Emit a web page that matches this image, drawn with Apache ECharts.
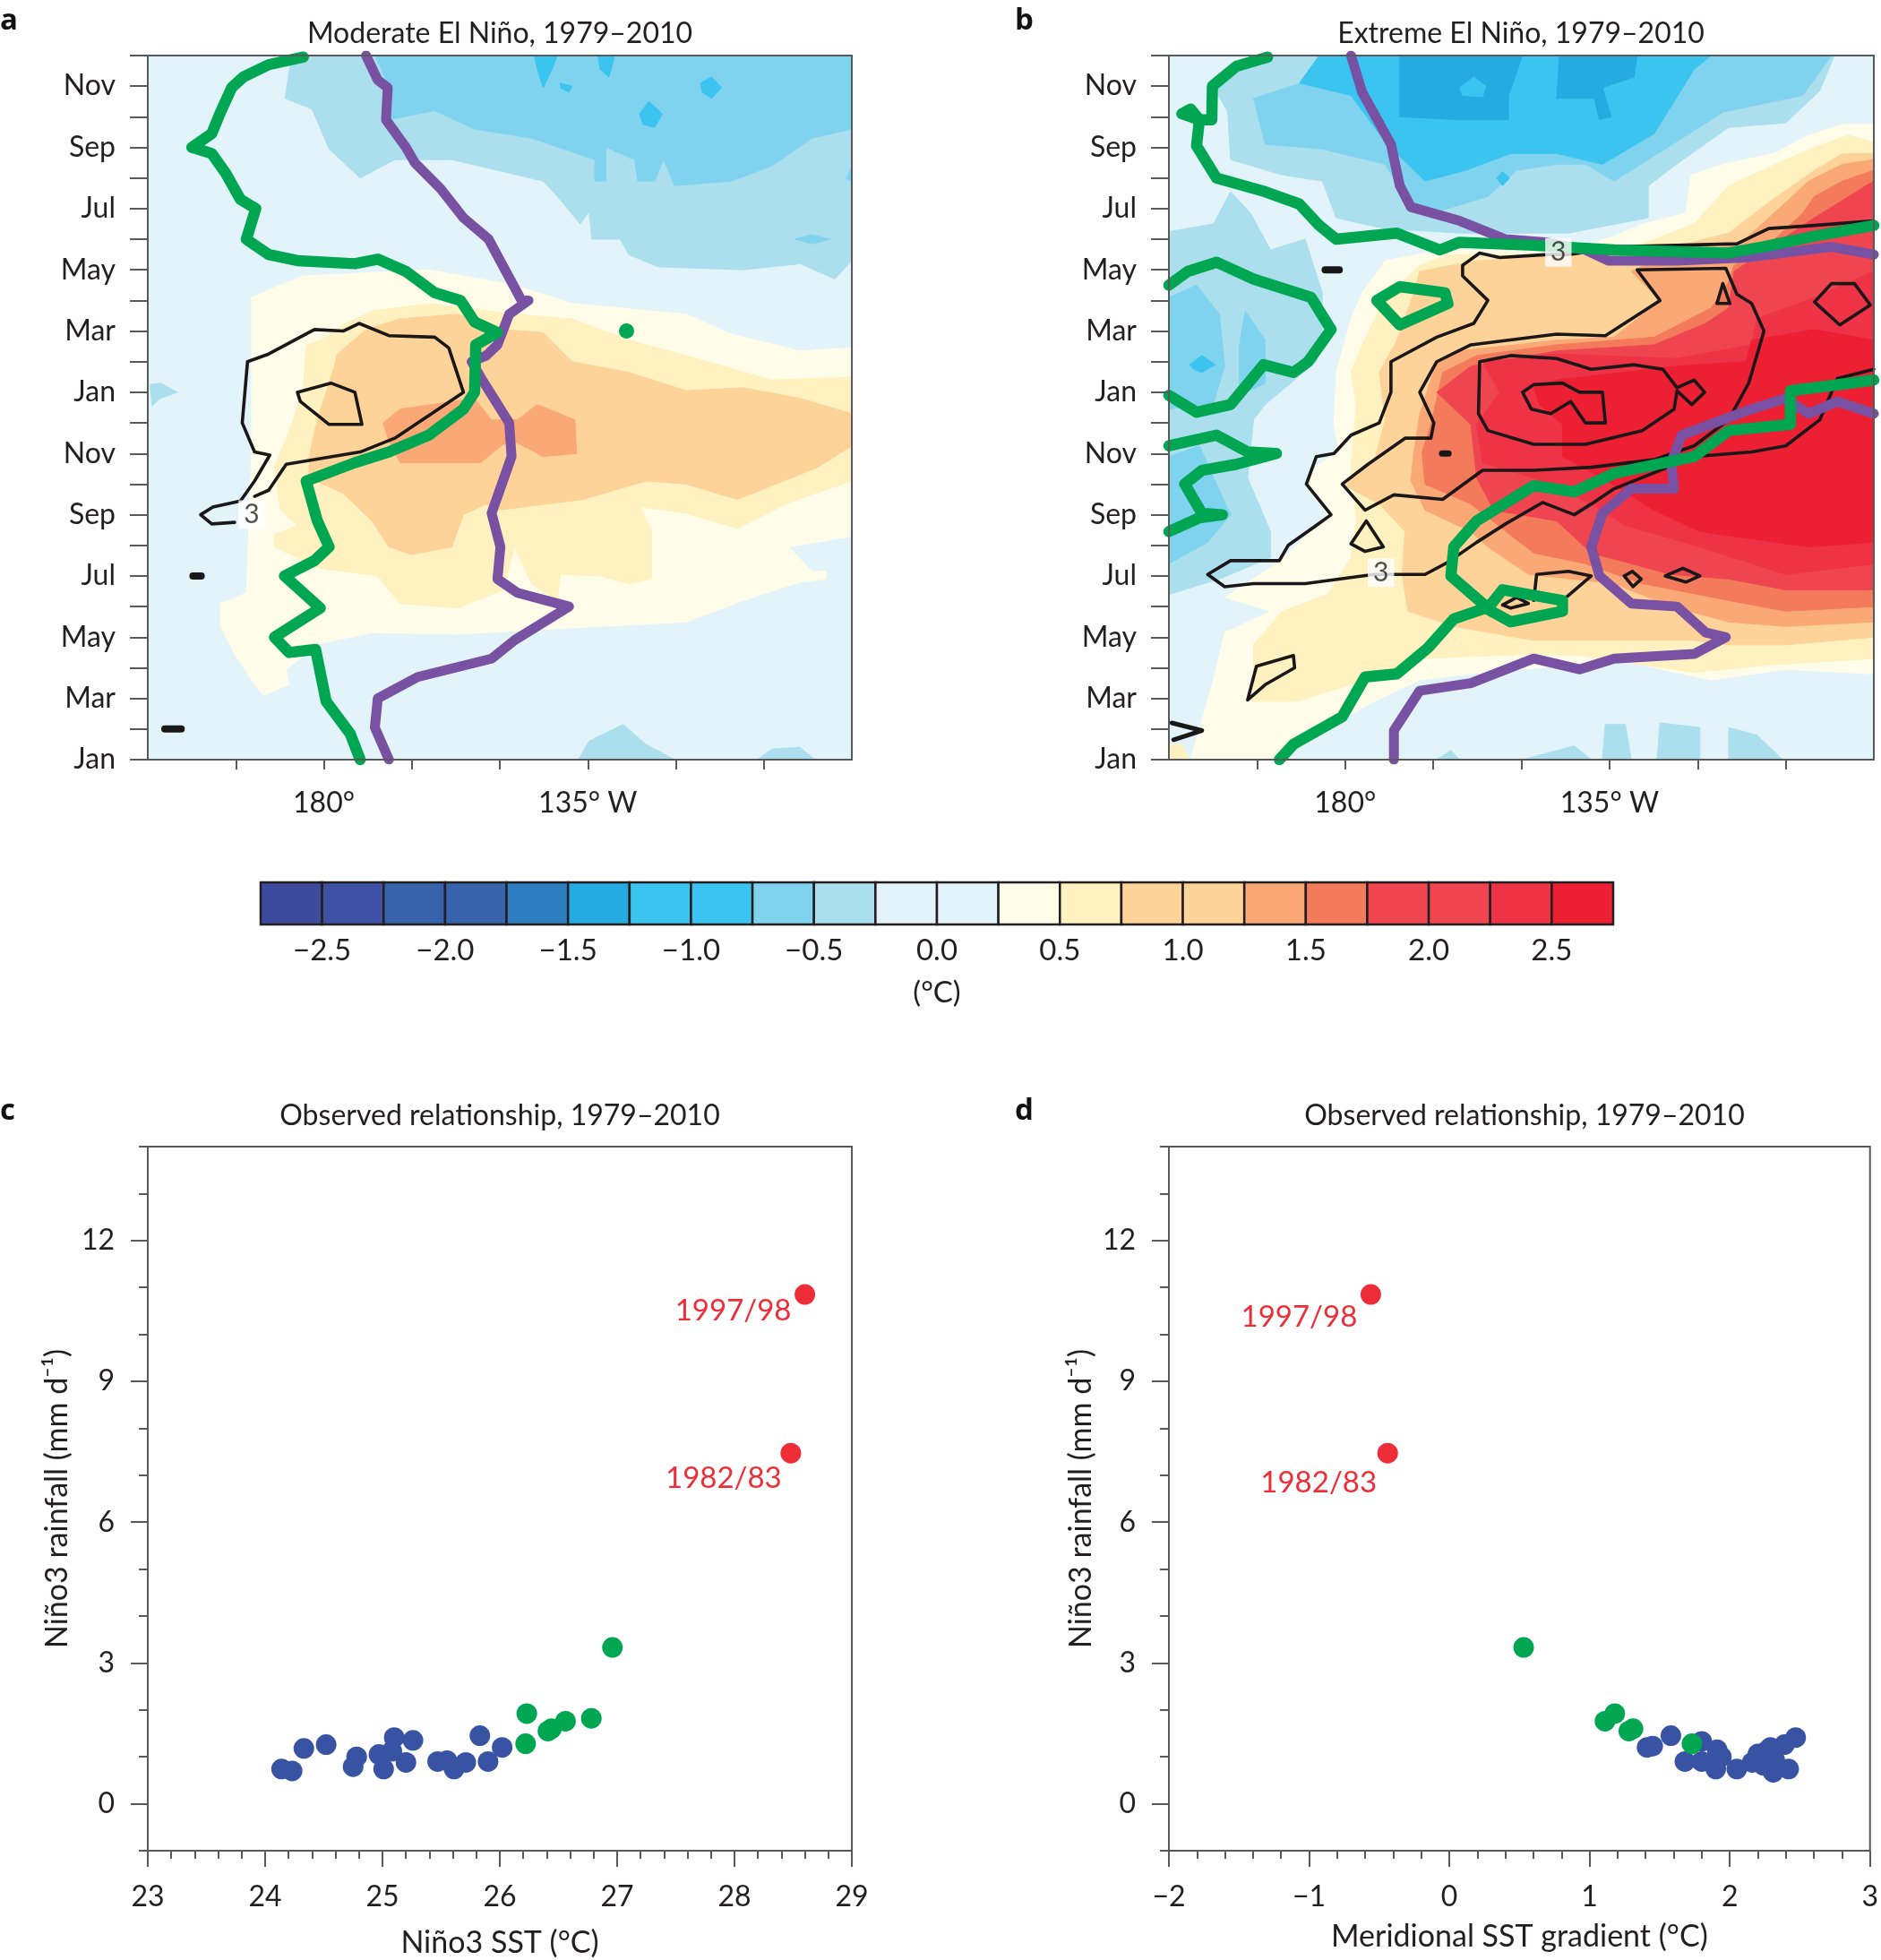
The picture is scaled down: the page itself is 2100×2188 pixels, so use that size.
<!DOCTYPE html>
<html><head><meta charset="utf-8">
<style>html,body{margin:0;padding:0;background:#fff}#c{width:2100px;height:2188px}</style>
<script src="https://cdn.jsdelivr.net/npm/echarts@6/dist/echarts.min.js"></script>
</head><body><div id="c"></div>
<script>
const monthNames=['Jan','','Mar','','May','','Jul','','Sep','','Nov','','Jan','','Mar','','May','','Jul','','Sep','','Nov',''];
const levelValues=[-2.5,-2,-1.5,-1,-0.5,0,0.5,1,1.5,2,2.5];
const levelColors=['#3e4a9e','#3f51a5','#3763ad','#3763ad','#2e7fc1','#25aae1','#3cc4f0','#3cc4f0','#80d3ee','#acdfee','#e3f3fa','#e3f3fa','#fffdea','#fff2c0','#fed39a','#fed39a','#fba877','#f47a5c','#ef4550','#ef4550','#ee3346','#ed1f33'];
const levelEdges=[-2.75,-2.5,-2.25,-2,-1.75,-1.5,-1.25,-1,-0.75,-0.5,-0.25,0,0.25,0.5,0.75,1,1.25,1.5,1.75,2,2.25,2.5,2.75];

const domain=[[150,0],[270,0],[270,23],[150,23]];

// Panel a: contour bands [lon, month]
const aCool25=[[174.5,23],[173.4,21.6],[178,21.25],[180.9,19.95],[186.2,19],[192.1,19.6],[201.8,19.6],[217.4,18.9],[219.8,18.4],[223.7,17.5],[225.2,17.9],[225.7,17],[230.5,17],[232,16.5],[236.9,16.1],[251.5,16],[261.2,16.2],[267.1,15.7],[270,16.3],[270,23]];
const aCool25Left=[[150.4,12.25],[152.1,12.3],[155.1,12],[152.1,11.8],[150.7,11.55]];
const aCool25BotA=[[223.4,0],[225.2,.6],[231,1.15],[234.9,.5],[239.8,0]];
const aCool25BotB=[[253.9,0],[256.4,.35],[261.2,.4],[263.7,0]];
const aCool50=[[188.7,23],[191.1,22],[191.1,20.9],[198.9,21.2],[205.7,20.6],[215.5,20.3],[226.2,19.6],[226.2,18.9],[228.1,18.9],[228.1,20],[233,19.6],[233.5,18.9],[236.4,18.9],[237.9,19.6],[239.8,18.75],[249.5,18.9],[256.4,19.4],[263.2,20.3],[270,20.6],[270,23]];
const aCool50B=[[260.3,17],[263.2,17.15],[266.3,17],[263.2,16.85]];
const aCool50C=[[269,19],[270,19.35],[270,18.9]];
const aCool75A=[[215.9,23],[219.8,23],[218.9,22.55],[217.4,21.95],[216.4,22.55]];
const aCool75B=[[226.7,23],[229.6,23],[228.6,22.3],[227.1,22.55]];
const aCool75C=[[220.3,22.1],[222.3,22],[221.8,21.8],[220.3,21.95]];
const aCool75D=[[244.2,22.1],[246.1,22.3],[247.8,21.95],[246.1,21.6],[244.5,21.8]];
const aCool75E=[[233.8,21.1],[235.4,21.5],[237.7,21.1],[236.4,20.65],[234.4,20.75]];
const aWarm25=[[167.7,15.1],[172.6,15.5],[176.5,15.8],[197.9,16],[212.5,15.5],[222.3,14.9],[241.8,14.55],[249.5,13.9],[261.2,13.35],[270,13.45],[270,7.3],[259.3,6.95],[263.2,6.15],[265.6,6.15],[265.6,5.9],[261.2,5.8],[251.5,5.2],[241.8,4.5],[232,4.4],[217.4,4.25],[202.8,4.1],[188.2,4.15],[179.4,3.8],[173.6,2.95],[174.1,2.45],[169.7,2.1],[167.7,2.6],[164.8,3.45],[162.4,4.35],[162.4,5.1],[166.8,5.45],[167.2,7.45],[167.7,10.05]];
const aWarm50=[[177,13.55],[179.4,13.7],[183.3,14.2],[188.2,14.65],[197.9,14.9],[212.5,14.55],[222.3,14.4],[232,13.7],[241.8,13.2],[256.4,12.4],[270,12.5],[270,9.1],[259.3,8.4],[250.5,7.55],[241.8,8.05],[234,8.25],[235.9,7.45],[235.9,5.9],[232,5.75],[227.1,6],[220.3,6.05],[219.8,5.2],[215.4,5.75],[212.5,6.95],[210.6,5.55],[202.8,4.95],[193,5.1],[189.2,6],[179.4,6.25],[171.6,6.95],[171.6,7.35],[175.5,7.65],[172.6,8.15],[171.6,9.55],[174.5,10.95],[176.5,12.15]];
const aWarm75=[[177.5,9.9],[178.9,11.1],[181.8,12.85],[182.3,13.25],[187.2,14.05],[193,14.4],[202.8,14.55],[210.6,14.05],[217.4,13.95],[222.3,13],[232,12.65],[241.8,12.05],[251.5,12.15],[261.2,11.8],[270,11.3],[270,10.25],[264.2,9.55],[250.5,8.5],[241.8,9],[234.9,9.1],[224.2,8.5],[209.6,8.15],[207.7,8.35],[203.8,8],[201.8,6.95],[195,6.7],[191.1,6.95],[188.2,7.8],[183.3,8.7],[177.5,9.2]];
const aWarm125=[[190.1,11],[193,11.45],[205.7,11.8],[208.6,11.1],[213,11.1],[216.4,11.6],[222.8,11.1],[223.1,10],[217.4,9.9],[212.5,10.4],[210.6,10.3],[206.7,9.7],[193,9.7],[191.1,10.4]];
const aGreen=[[176.5,22.95],[170.6,22.7],[166.3,22.3],[164.3,21.95],[162.4,21.15],[160.9,20.45],[157.5,20],[160.9,19.8],[163.3,19.15],[165.8,18.3],[168.4,18],[166.8,17],[170.6,16.5],[175.5,16.3],[185.3,16.2],[189.2,16.35],[194,15.95],[198.9,15.25],[203.3,15],[205.7,14.3],[209.6,13.95],[205.9,13.55],[205.7,12],[203.8,11.45],[197.9,10.6],[191.1,10.05],[185.3,9.7],[177,9.1],[178.9,7.8],[180.9,6.95],[178.4,6.5],[173.3,6],[179.4,4.95],[171.6,4],[174.1,3.5],[178.6,3.6],[180.4,1.9],[184.5,.85],[186.2,0]];
const aGreenDot=[[231.6,14]];
const aPurple=[[187.2,23],[189.2,22.2],[190.9,21.95],[190.6,20.9],[194,20],[195.5,19.5],[199.9,18.65],[203.8,17.7],[208.1,17],[213.7,15],[214.9,15],[211.6,14.55],[209.6,13.55],[207.7,13.2],[205.2,13],[206.7,12.5],[211.6,11],[212,9.9],[208.6,8.05],[210.1,6.95],[209.6,5.9],[213,5.45],[221.8,5],[212.5,3.9],[208.6,3.3],[196,2.7],[189.2,2],[188.7,1.05],[191.1,0]];
const aBlackMain=[[164.8,7.75],[160.9,7.7],[159,8],[161.1,8.25],[165.8,8.45],[168.2,9.1],[170.8,9.95],[168.2,10.05],[166.1,11],[167,13],[170.6,13.25],[178.4,14.05],[183.3,14],[186,14.25],[191.1,13.85],[198.9,13.8],[201.3,13.45],[203.8,12],[192.1,10.5],[186.2,10.05],[173.6,9.65],[170.6,8.8],[168.2,8.6]];
const aBlackInner=[[175.5,12],[181.2,12.3],[185.3,12],[186.5,10.95],[180.9,10.95],[176,11.7],[175.5,12]];
const aBlackBlobA=[[157.7,6],[159.1,6]];
const aBlackBlobB=[[152.9,1],[155.7,1]];
const aLabels3=[[167.7,8]];

// Panel b
const bCool25=[[166.4,23],[157.6,22],[160,21.15],[160.5,19.6],[169.3,19.1],[176.1,18.9],[178.5,17.7],[182.9,17.5],[186.8,17.35],[199.5,17.2],[218,17.2],[231.6,17.7],[231.6,18.75],[237.5,19.6],[245.3,20.65],[255,20.8],[260.8,21.85],[263.3,23]];
const bCool25Left=[[150,17.25],[157.6,17.5],[160.5,18.55],[163.9,17.85],[167.3,16.65],[173.2,17],[176.1,15.25],[176.1,13.7],[175.1,13],[166.4,11.6],[164.4,11.1],[163.4,9.2],[167.3,7.45],[167.3,6.6],[158.6,5.9],[150,5.4]];
const bCool25BotA=[[195.6,0],[198,.3],[199.5,0]];
const bCool25BotB=[[210.2,0],[219,.45],[221.9,0]];
const bCool25BotC=[[223.8,0],[224.3,1.15],[227.7,1.15],[228.7,0]];
const bCool25BotD=[[233.1,0],[233.6,1.2],[240.4,1.05],[240.4,0]];
const bCool25BotE=[[245.3,1.05],[250.1,.8],[254.5,0],[245.3,0]];
const bCool50=[[176.6,23],[174.2,22.2],[164.4,21.6],[166.4,20.1],[176.1,19.95],[186.8,19.45],[190.7,18.2],[196.6,17.95],[204.3,18.4],[209.2,19.25],[216,19.45],[220.9,19.45],[225.8,18.9],[234.5,19.95],[244.3,21.15],[257.9,21.7],[262.8,23]];
const bCool50A=[[150,15.1],[154.7,15.5],[158.6,14.55],[159.5,12.85],[157.6,11.65],[150,11.45]];
const bCool50B=[[163,14.65],[166.4,13.7],[166.4,12.3],[162,11.9],[162,13.55]];
const bCool50C=[[150,9.9],[155.2,10.25],[157.6,9.2],[160.5,8],[156.6,7.1],[150,6.4]];
const bCool75=[[175.6,23],[172.2,22.1],[181,21.7],[185.8,20.45],[188.8,19.8],[193.6,18.9],[200.5,19.25],[208.2,19.8],[216,19.8],[223.8,19.45],[232.6,20.45],[239.4,22.55],[242.3,23]];
const bCool75A=[[205.8,19],[206.8,19.2],[208,19],[206.8,18.75]];
const bCool75B=[[153.5,12.9],[155.6,13.2],[157.9,12.9],[155.6,12.65],[154.2,12.75]];
const bCool100A=[[189.3,23],[189.3,21],[199.5,20.9],[207.8,20.9],[207.8,21.7],[210.2,23]];
const bCool100B=[[216.5,23],[216,21.6],[222.4,21.6],[223.3,20.9],[225.3,21],[223.8,21.95],[229.2,22.3],[229.7,23]];
const bCool75Inner=[[199.5,21.95],[201.9,22.3],[203.9,22],[203.4,21.65],[200,21.7]];
const bWarm25=[[169.3,0],[177.1,1.05],[184.9,1.9],[192.7,2.6],[201.4,2.8],[216,3.05],[225.8,3.3],[242.3,2.6],[255,2.95],[270,2.8],[270,20.75],[264.7,20.75],[258.9,20.4],[253,19.8],[244.3,19.45],[238.9,19.1],[238,17.85],[230.6,17.5],[225.8,17.1],[218,16.65],[196.6,16.65],[186.8,16.3],[182.9,15.25],[181,14.4],[178.5,12.65],[178.1,10.95],[179,10.05],[174.6,9.55],[173.2,9],[177.1,8],[174.2,7.45],[168.3,6.4],[159.5,5.3],[167.3,4.85],[159.5,4.15],[157.6,2.6],[153.7,0]];
const bWarm50=[[171.7,1.9],[181,2.45],[192.7,3.3],[212.1,3.45],[219.9,3.4],[239.4,2.85],[253,3.1],[270,3.3],[270,20.15],[265.7,20.4],[259.9,20],[255,19.6],[245.3,18.75],[239.4,17.5],[230.6,16.85],[216,16.5],[197.5,16.5],[192.7,16.15],[186.8,15.1],[182.9,13.55],[181,12.65],[181.9,11.6],[181,9.55],[181.9,7.8],[181,6.6],[177.1,5.4],[169.3,4.85],[164.4,3.75],[164.4,1.9]];
const bWarm50Corner=[[150,.5],[152.2,.5],[153.5,0],[150,0]];
const bWarm75=[[270,19.8],[264.7,19.8],[259.9,19.25],[252.1,18.2],[245.3,17.2],[230.6,16.5],[216,16.45],[202.4,16.3],[192.7,15.95],[191.7,15.25],[188.8,13.7],[185.8,12.65],[186.8,11.1],[184.9,9.7],[182.9,9.55],[180,8.95],[185.8,8.35],[190.2,7.45],[189.7,6.05],[190.7,4.85],[198.5,4.35],[212.1,3.9],[239.4,3.9],[245.3,3.75],[255,3.75],[270,4]];
const bWarm125=[[270,19.6],[264.7,19.45],[258.9,18.9],[255,18.2],[247.2,16.85],[232.6,16.3],[228.7,15.95],[233.6,15],[225.8,13.8],[216,13.7],[199.5,13.35],[195.6,13],[192.7,11.3],[191.7,10.05],[191.2,9.1],[193.6,8.15],[201.4,7.45],[204.3,6.95],[211.2,6.05],[225.8,5.75],[235.5,5],[245.3,4.5],[255,4.35],[270,4.5]];
const bWarm150=[[270,19.25],[264.7,18.9],[259.9,18.4],[257.9,17.85],[251.1,16.65],[246.2,16.15],[245.3,15.6],[242.3,14.75],[232.6,13.8],[216,13.55],[202.4,13.2],[196.6,12.65],[194.6,10.95],[193.1,10.05],[193.6,9],[201.4,8.35],[212.1,6.75],[220.9,6.4],[230.6,5.75],[245.3,5.2],[255,4.85],[270,5]];
const bWarm175=[[270,18.9],[259.9,17.7],[246.2,15.95],[245.3,14.75],[241.4,14.25],[232.6,13.55],[216,13.35],[201.4,12.85],[195.6,12],[201.4,10.95],[202.4,9.2],[205.3,8.15],[216,7.8],[221.9,6.75],[235.5,6.05],[245.3,5.9],[255,5.55],[270,5.55]];
const bWarm225=[[203.4,13],[216,13.25],[236.5,13.1],[249.2,13.55],[250.1,14.4],[259.9,15.1],[270,15.95],[270,6.4],[255,6.05],[240.4,6.95],[227.7,7.65],[221.9,8.35],[212.1,9.2],[203.4,9.7],[202.4,10.95],[206.3,12]];
const bWarm250=[[212.1,12.15],[216,12.4],[236.5,12.85],[248.2,13],[249.2,13.7],[259.9,14.05],[270,13.7],[270,7.1],[258.9,6.95],[240.4,7.45],[232.6,8.15],[223.8,9.2],[217,9.9],[217,10.95],[213.1,11.6]];
const bBlackTop=[[270,17.6],[259.9,17.45],[252.1,17.35],[246.7,16.85],[225.8,16.75],[220,16.55],[218,16.5],[214.6,16.5],[206.3,16.4],[202.9,16.55],[200,16.15],[200,15.8],[204.3,15],[201.9,14.25],[195.6,13.8],[187.8,13],[187.8,12],[185.8,11],[181,10.6],[178.1,10],[175.1,9.9],[173.4,9],[177.6,8],[175.1,7.65],[170.3,7],[168.8,6.5],[160.5,6.5],[156.6,6.05],[159.5,5.65],[164.4,5.75],[173.2,5.75],[184.9,6.05],[188.8,6.05],[193.6,6.05],[197.5,6.45],[202.4,7.1],[207.3,7.7],[213.6,8.4],[219,8],[221.9,8.35],[225.8,8.85],[233.6,9.45],[239.4,9.9],[249.2,10.05],[255,10.25],[260.8,11.1],[263.8,12.45],[270,12.75]];
const bBlackSecond=[[179.5,9],[183.9,9.65],[190.2,10.5],[194.6,10.5],[195.1,11],[192.7,12],[195.6,13],[201.4,13.55],[216,13.9],[224.3,13.85],[233.6,15],[229.7,16],[244.8,16.05],[246.7,15.2],[249.2,14.9],[251.3,14],[248.7,12.3],[245.3,11.1],[239.4,10.25],[232.6,9.8],[221.9,9.55],[212.1,9.45],[203.4,9.45],[196.6,8.5],[188.3,8.65],[183.4,8.15],[179.5,9]];
const bBlackThird=[[202.9,13],[208.2,13.2],[216,13.1],[221.9,12.75],[229.2,12.9],[234.1,12.75],[236.5,12.15],[239.4,12.4],[241.2,12],[239,11.6],[236.5,12.05],[236,11.45],[230.6,10.75],[220.9,10.3],[212.1,10.3],[204.3,10.75],[202.7,11.3],[202.9,13]];
const bBlackFourth=[[210.2,12],[212.1,12.25],[217,12.3],[219.9,12],[223.8,12],[224.3,11],[220.9,11],[218.4,11.7],[215,11.3],[211.7,11.45],[210.2,12]];
const bBlackS1=[[243.3,14.9],[244.3,15.55],[245.5,14.9],[243.3,14.9]];
const bBlackS2=[[259.9,14.95],[262.8,15.55],[266.7,15.55],[269.4,14.85],[264.2,14.2],[259.9,14.95]];
const bBlackS3=[[181,7.05],[183.6,7.8],[186.5,6.95],[183.4,6.8],[181,7.05]];
const bBlackS4=[[163.4,1.95],[164.9,3.05],[171.2,3.4],[171.4,3],[166.4,2.45],[163.4,1.95]];
const bBlackS5=[[212.1,5.2],[212.6,6.05],[218,6.15],[221.9,6],[217,5.2]];
const bBlackS6=[[206.8,5.05],[209.2,5.3],[211.2,5.1],[208.2,4.95],[206.8,5.05]];
const bBlackS7=[[227.5,6],[228.9,6.15],[230.4,5.9],[229,5.65],[227.5,6]];
const bBlackS8=[[234.5,6],[237.5,6.25],[240.4,6],[238,5.8],[234.5,6]];
const bBlackChevron=[[150.5,1.2],[155.6,.95],[150.8,.65]];
const bBlackBlobA=[[176.6,16],[179,16]];
const bBlackBlobB=[[196.5,10],[197.6,10]];
const bGreen1=[[166.8,22.95],[161.5,22.65],[157.4,22],[157.3,20.9],[155.2,20.9],[152.2,21.1],[153.7,21.25],[155.2,20.9],[154.7,20.05],[158.1,19],[166.4,18.55],[172.2,18.15],[175.6,17.45],[178.5,17],[188.8,17.2],[196.1,16.65],[199.5,16.9],[212.1,16.8],[225.8,16.65],[245.3,16.55],[251.1,16.75],[259.9,17.1],[270,17.45]];
const bGreen2=[[150,15.5],[153.2,15.95],[158.1,16.25],[164.4,15.7],[174.2,15.1],[177.6,14.05],[173.7,13],[171.2,12.65],[166.1,12.9],[160.5,11.6],[154.7,11.35],[150,11.9]];
const bGreen3=[[150,10.25],[158.1,10.6],[163.4,10.05],[168.3,10],[161.5,9.65],[155.6,9.45],[152.7,9],[155.6,8.05],[159.1,8],[155.2,7.9],[150,7.45]];
const bGreen4=[[185.4,15],[189.3,15.45],[197,15.25],[197.5,14.9],[189.3,14.2],[185.4,15]];
const bGreen5=[[270,12.4],[255.8,12.05],[255.8,10.95],[245.3,10.75],[239.4,9.9],[225.8,9.35],[219,8.75],[212.1,8.95],[202.4,7.8],[198.5,6.95],[198,6],[204.3,4.95],[206.8,5.55],[217,5.2],[217,4.85],[208.2,4.5],[203.9,4.95],[198.5,4.6],[194.1,3.65],[188.8,2.8],[183.4,2.7],[179.5,1.4],[171.2,.5],[168.8,0]];
const bPurple1=[[181,23],[182.9,21.8],[187.8,20.1],[189.3,18.75],[191.2,18.05],[199.5,17.6],[207.3,17],[214.1,16.9],[220.9,16.65],[224.8,16.3],[236.5,16.3],[248.2,16.4],[262.8,16.75],[270,16.5]];
const bPurple2=[[270,11.3],[263.8,11.7],[258.9,11.3],[255,11.8],[249.2,11.45],[237.3,10.6],[235.5,9.7],[236,8.85],[228.7,8.85],[223.8,8.05],[221.9,6.95],[223.3,6],[228.7,5.1],[236.5,5],[241.4,4.15],[244.8,4],[239.4,3.45],[225.8,3.3],[219.9,2.95],[212.1,3.3],[201.4,2.5],[192.7,2.25],[188.3,.95],[188.3,0]];
const bLabels3=[[216.3,16.57],[186.1,6.11]];

// Panels c and d: [value, rainfall]
const cBlue=[[24.14,.74],[24.23,.7],[24.33,1.18],[24.52,1.26],[24.75,.79],[24.78,1],[24.97,1.05],[25.01,.74],[25.08,1.12],[25.1,1.41],[25.2,.88],[25.26,1.35],[25.47,.9],[25.55,.92],[25.61,.74],[25.71,.88],[25.83,1.45],[25.9,.9],[26.02,1.2]];
const cGreen=[[26.22,1.28],[26.23,1.92],[26.41,1.55],[26.44,1.6],[26.56,1.76],[26.78,1.82],[26.96,3.33]];
const cRed=[[28.6,10.85],[28.48,7.47]];
const dBlue=[[1.41,1.2],[1.45,1.23],[1.58,1.45],[1.68,.9],[1.8,1.33],[1.8,.9],[1.91,1.15],[1.9,.74],[1.94,1],[2.05,.74],[2.16,.88],[2.2,1.06],[2.24,.82],[2.26,1.12],[2.29,1.2],[2.31,.67],[2.32,.94],[2.39,1.26],[2.42,.74],[2.47,1.41]];
const dGreen=[[.53,3.33],[1.11,1.76],[1.18,1.92],[1.28,1.55],[1.31,1.6],[1.73,1.28]];
const dRed=[[-.56,10.85],[-.44,7.47]];
const redYears=['1997/98','1982/83'];
const yMajorValues=[0,3,6,9,12];

const FONT='Lato', TXT='#231f20', AXC='#58595b';
const C={blue:'#3953a4',green:'#00a651',red:'#ed2e38',purple:'#7851a2',black:'#1a1718'};

// colour index into levelColors, polygons
const aBands=[[10,[domain]],[9,[aCool25,aCool25Left,aCool25BotA,aCool25BotB]],[8,[aCool50,aCool50B,aCool50C]],[6,[aCool75A,aCool75B,aCool75C,aCool75D,aCool75E]],[12,[aWarm25]],[13,[aWarm50]],[14,[aWarm75]],[16,[aWarm125]]];
const bBands=[[10,[domain]],[9,[bCool25,bCool25Left,bCool25BotA,bCool25BotB,bCool25BotC,bCool25BotD,bCool25BotE]],[8,[bCool50,bCool50A,bCool50B,bCool50C]],[6,[bCool75,bCool75A,bCool75B]],[5,[bCool100A,bCool100B]],[6,[bCool75Inner]],[12,[bWarm25]],[13,[bWarm50,bWarm50Corner]],[14,[bWarm75]],[16,[bWarm125]],[17,[bWarm150]],[18,[bWarm175]],[20,[bWarm225]],[21,[bWarm250]]];

function fillSeries(g,bands){
  const flat=[];bands.forEach(([ci,ps])=>ps.forEach(p=>flat.push({ci,p})));
  return {type:'custom',coordinateSystem:'cartesian2d',xAxisIndex:g,yAxisIndex:g,silent:true,clip:true,z:1,
    data:flat.map((f,i)=>[f.p[0][0],f.p[0][1],i]),encode:{x:0,y:1},
    renderItem(params,api){const f=flat[api.value(2)];const col=levelColors[f.ci];
      return {type:'polygon',shape:{points:f.p.map(pt=>api.coord(pt))},style:{fill:col,stroke:col,lineWidth:1}};}};
}
function lineS(g,data,color,w,z){return {type:'line',xAxisIndex:g,yAxisIndex:g,data,symbol:'none',clip:true,silent:true,z,
  lineStyle:{color,width:w,join:'round',cap:'round'}};}
function label3(g,data){return {type:'scatter',xAxisIndex:g,yAxisIndex:g,data,symbolSize:1,itemStyle:{color:'rgba(0,0,0,0)'},silent:true,z:5,
  label:{show:true,position:'inside',formatter:'3',fontFamily:FONT,fontSize:30,color:TXT,backgroundColor:'#fff',padding:[1,6]}};}
function dots(g,yi,data,color,z){return {type:'scatter',xAxisIndex:g,yAxisIndex:yi,data,symbolSize:23,itemStyle:{color,opacity:1},z,silent:true};}
function redDots(g,yi,data,offs){return {type:'scatter',xAxisIndex:g,yAxisIndex:yi,symbolSize:23,itemStyle:{color:C.red,opacity:1},z:6,silent:true,
  data:data.map((v,i)=>({value:v,name:redYears[i],label:{show:true,position:'inside',offset:offs[i],formatter:redYears[i],color:C.red,fontFamily:FONT,fontSize:33}}))};}

const lonNames={180:'180°',225:'135° W'};
const hiddenLine={show:false,onZero:false};
function mapX(g){return {type:'value',gridIndex:g,min:150,max:270,interval:15,z:6,
  axisLine:hiddenLine,splitLine:{show:false},
  axisTick:{show:true,length:11,lineStyle:{color:AXC,width:2},customValues:[165,180,195,210,225,240,255]},
  axisLabel:{customValues:[180,225],margin:33,fontFamily:FONT,fontSize:32,color:TXT,formatter:v=>lonNames[v]||''}};}
function mapY(g){return {type:'value',gridIndex:g,min:0,max:23,interval:1,z:6,
  axisLine:hiddenLine,splitLine:{show:false},
  axisTick:{show:true,length:20,lineStyle:{color:AXC,width:2}},
  axisLabel:{interval:0,margin:36,fontFamily:FONT,fontSize:32,color:TXT,padding:[13,0,0,0],formatter:v=>monthNames[v]||''}};}
function scX(g,min,max,name,gap){return {type:'value',gridIndex:g,min,max,interval:1,z:6,
  axisLine:hiddenLine,splitLine:{show:false},
  axisTick:{show:true,length:18,lineStyle:{color:AXC,width:2}},
  minorTick:{show:true,splitNumber:5,length:9,lineStyle:{color:AXC,width:2}},
  axisLabel:{margin:36,fontFamily:FONT,fontSize:32,color:TXT,formatter:v=>v<0?'\u2212'+(-v):String(v)},
  name,nameLocation:'middle',nameGap:gap,nameTextStyle:{fontFamily:FONT,fontSize:34,color:TXT}};}
function scY(g,gap){return {type:'value',gridIndex:g,position:'left',min:-1,max:14,interval:1,z:6,
  axisLine:hiddenLine,splitLine:{show:false},
  axisTick:{show:true,length:19,lineStyle:{color:AXC,width:2},customValues:yMajorValues},
  axisLabel:{customValues:yMajorValues,margin:37,fontFamily:FONT,fontSize:32,color:TXT,padding:[8,0,0,0]},
  name:'Niño3 rainfall (mm d⁻¹)',nameLocation:'middle',nameGap:gap,nameTextStyle:{fontFamily:FONT,fontSize:34,color:TXT}};}
function scY2(g){return {type:'value',gridIndex:g,position:'left',min:-1,max:14,interval:1,z:6,
  axisLine:hiddenLine,splitLine:{show:false},axisTick:{show:true,length:10,lineStyle:{color:AXC,width:2}},axisLabel:{show:false}};}

const grids=[{left:165,top:62,width:786,height:786},{left:1305,top:62,width:787,height:786},{left:165,top:1280,width:786,height:786},{left:1305,top:1280,width:785,height:786}]
  .map(g=>({...g,show:true,z:5,backgroundColor:'transparent',borderColor:AXC,borderWidth:2}));
grids.push({left:291,top:985,width:1510,height:47,show:false});

const colorCells=levelColors.map((c,i)=>[levelEdges[i],levelEdges[i+1],i]);

const titles=[['Moderate El Niño, 1979–2010',558,38],['Extreme El Niño, 1979–2010',1698,38],['Observed relationship, 1979–2010',558,1246],['Observed relationship, 1979–2010',1702,1246]]
  .map(([text,left,top])=>({text,left,top,textAlign:'center',textVerticalAlign:'middle',padding:0,textStyle:{fontFamily:FONT,fontWeight:'normal',fontSize:32,color:TXT}}));
[['a',0,24],['b',1133,24],['c',0,1241],['d',1133,1241]].forEach(([text,left,top])=>titles.push({text,left,top,textVerticalAlign:'middle',padding:0,textStyle:{fontFamily:'Open Sans',fontWeight:'bold',fontSize:33,color:'#111'}}));

const option={animation:false,backgroundColor:'#fff',title:titles,grid:grids,
 xAxis:[mapX(0),mapX(1),scX(2,23,29,'Niño3 SST (°C)',86),scX(3,-2,3,'Meridional SST gradient (°C)',79),
  {type:'value',gridIndex:4,min:-2.75,max:2.75,interval:.25,axisLine:hiddenLine,axisTick:{show:false},splitLine:{show:false},
   axisLabel:{customValues:levelValues,margin:13,fontFamily:FONT,fontSize:33,color:TXT,formatter:v=>(v<0?'\u2212':'')+Math.abs(v).toFixed(1)},
   name:'(°C)',nameLocation:'middle',nameGap:60,nameTextStyle:{fontFamily:FONT,fontSize:33,color:TXT}}],
 yAxis:[mapY(0),mapY(1),scY(2,84),scY2(2),scY(3,81),scY2(3),{type:'value',gridIndex:4,min:0,max:1,show:false}],
 series:[
  fillSeries(0,aBands),
  lineS(0,aBlackMain,C.black,3.6,2),lineS(0,aBlackInner,C.black,3.6,2),lineS(0,aBlackBlobA,C.black,8,2),lineS(0,aBlackBlobB,C.black,8,2),
  lineS(0,aPurple,C.purple,11,3),lineS(0,aGreen,C.green,12.5,4),
  {type:'scatter',xAxisIndex:0,yAxisIndex:0,data:aGreenDot,symbolSize:17,itemStyle:{color:C.green,opacity:1},z:4,silent:true},
  label3(0,aLabels3),
  fillSeries(1,bBands),
  ...[bBlackTop,bBlackSecond,bBlackThird,bBlackFourth,bBlackS1,bBlackS2,bBlackS3,bBlackS4,bBlackS5,bBlackS6,bBlackS7,bBlackS8].map(d=>lineS(1,d,C.black,3.6,2)),
  lineS(1,bBlackChevron,C.black,5,2),lineS(1,bBlackBlobA,C.black,8,2),lineS(1,bBlackBlobB,C.black,7,2),
  lineS(1,bPurple1,C.purple,11,3),lineS(1,bPurple2,C.purple,11,3),
  ...[bGreen1,bGreen2,bGreen3,bGreen4,bGreen5].map(d=>lineS(1,d,C.green,12.5,4)),
  label3(1,bLabels3),
  dots(2,2,cBlue,C.blue,3),dots(2,2,cGreen,C.green,4),redDots(2,2,cRed,[[-80,18],[-75,28]]),
  dots(3,4,dBlue,C.blue,3),dots(3,4,dGreen,C.green,4),redDots(3,4,dRed,[[-80,25],[-77,33]]),
  {type:'custom',coordinateSystem:'cartesian2d',xAxisIndex:4,yAxisIndex:6,silent:true,data:colorCells,encode:{x:[0,1]},
   renderItem(params,api){const a=api.coord([api.value(0),1]),b=api.coord([api.value(1),0]);
     return {type:'rect',shape:{x:a[0],y:a[1],width:b[0]-a[0],height:b[1]-a[1]},style:{fill:levelColors[api.value(2)],stroke:'#231f20',lineWidth:2.5}};}}
 ]};
const chart=echarts.init(document.getElementById('c'),null,{renderer:'canvas',width:2100,height:2188});
chart.setOption(option);
</script></body></html>
